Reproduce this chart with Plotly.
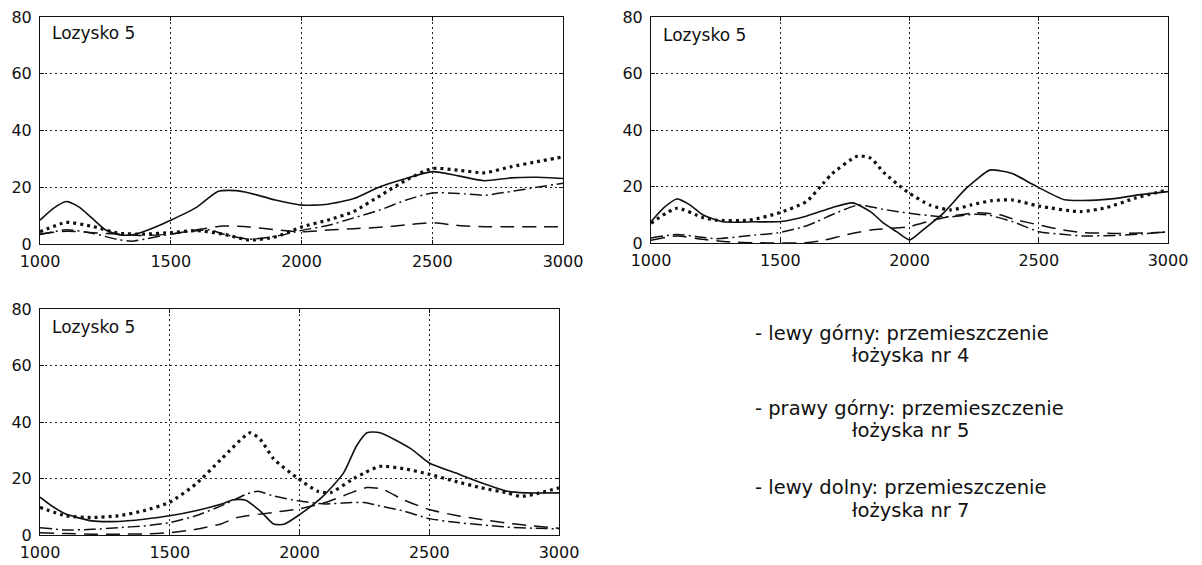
import plotly.graph_objects as go

# ---------------- data ----------------
X_TICKS = [1000, 1500, 2000, 2500, 3000]
Y_TICKS = [0, 20, 40, 60, 80]
PANEL_LABEL = "Lozysko 5"
NOTE_LINES = [
    "- lewy górny: przemieszczenie", "łożyska nr 4",
    "- prawy górny: przemieszczenie", "łożyska nr 5",
    "- lewy dolny: przemieszczenie", "łożyska nr 7",
]

# Panel 1 (top-left)
p1_solid_x = [1000, 1050, 1100, 1150, 1200, 1250, 1300, 1350, 1400, 1500, 1600, 1680, 1750, 1800, 1900, 2000, 2100, 2200, 2300, 2400, 2500, 2600, 2700, 2800, 2900, 3000]
p1_solid_y = [8.4, 12.5, 15.0, 13.0, 9.0, 5.0, 3.3, 3.2, 4.5, 8.4, 13.0, 18.5, 18.8, 18.0, 15.5, 13.7, 14.0, 16.0, 20.2, 23.1, 25.5, 24.0, 22.3, 23.3, 23.5, 23.1]
p1_dot_x = [1000, 1100, 1200, 1300, 1400, 1500, 1600, 1700, 1800, 1900, 2000, 2100, 2200, 2300, 2400, 2500, 2600, 2700, 2800, 2900, 3000]
p1_dot_y = [4.3, 7.6, 6.2, 3.8, 3.5, 4.0, 4.7, 3.5, 1.4, 2.5, 6.0, 8.4, 11.5, 17.0, 22.5, 26.6, 26.0, 25.1, 27.2, 29.0, 30.7]
p1_dashdot_x = [1000, 1100, 1200, 1300, 1350, 1400, 1500, 1600, 1650, 1700, 1800, 1900, 2000, 2100, 2200, 2300, 2400, 2500, 2600, 2700, 2800, 2900, 3000]
p1_dashdot_y = [3.3, 5.0, 3.8, 1.5, 1.0, 1.7, 3.5, 4.7, 5.0, 3.5, 1.7, 2.7, 4.8, 6.5, 9.2, 12.0, 15.5, 18.0, 17.8, 17.2, 18.5, 20.0, 21.4]
p1_dash_x = [1000, 1100, 1200, 1300, 1400, 1500, 1600, 1700, 1800, 1900, 2000, 2100, 2200, 2300, 2400, 2500, 2600, 2700, 2800, 2900, 3000]
p1_dash_y = [3.5, 4.5, 4.0, 3.5, 3.0, 3.5, 5.0, 6.3, 6.0, 5.0, 4.3, 4.9, 5.4, 5.9, 6.7, 7.5, 6.5, 6.1, 6.1, 6.1, 6.1]

# Panel 2 (top-right)
p2_solid_x = [1000, 1050, 1100, 1150, 1200, 1280, 1400, 1500, 1600, 1700, 1780, 1850, 1900, 1950, 2000, 2050, 2130, 2220, 2310, 2350, 2400, 2480, 2600, 2700, 2800, 2900, 3000]
p2_solid_y = [7.5, 12.5, 15.6, 13.5, 10.0, 7.5, 7.5, 7.6, 9.5, 12.5, 14.2, 11.0, 7.0, 4.0, 1.1, 4.5, 10.5, 19.4, 25.8, 25.6, 24.5, 20.6, 15.3, 15.1, 15.8, 17.2, 18.2]
p2_dot_x = [1000, 1100, 1200, 1250, 1380, 1490, 1600, 1670, 1700, 1800, 1850, 1900, 1990, 2080, 2160, 2240, 2320, 2400, 2500, 2660, 2760, 2870, 3000]
p2_dot_y = [7.0, 12.3, 9.0, 8.1, 8.1, 10.5, 14.6, 21.5, 24.5, 30.8, 30.0, 25.0, 18.2, 13.4, 11.7, 13.5, 15.0, 15.2, 13.1, 11.1, 12.5, 15.8, 18.8]
p2_dashdot_x = [1000, 1100, 1200, 1250, 1400, 1490, 1600, 1640, 1700, 1800, 1900, 2000, 2100, 2160, 2250, 2300, 2400, 2500, 2600, 2670, 2800, 2900, 3000]
p2_dashdot_y = [1.8, 3.0, 2.0, 1.5, 2.8, 3.6, 6.0, 7.5, 10.0, 13.4, 11.9, 10.5, 9.5, 9.3, 10.2, 10.0, 7.5, 4.0, 3.0, 2.5, 2.7, 3.2, 4.0]
p2_dash_x = [1000, 1100, 1200, 1300, 1400, 1500, 1600, 1670, 1750, 1850, 2000, 2090, 2180, 2260, 2350, 2400, 2500, 2600, 2670, 2800, 2900, 3000]
p2_dash_y = [1.0, 2.5, 1.3, 0.4, 0.1, 0.0, 0.1, 1.0, 2.8, 4.6, 5.8, 8.1, 9.8, 10.7, 10.0, 8.5, 6.4, 4.5, 3.7, 3.4, 3.5, 3.9]

# Panel 3 (bottom-left)
p3_solid_x = [1000, 1050, 1100, 1200, 1300, 1400, 1500, 1600, 1700, 1745, 1790, 1850, 1900, 1940, 2000, 2090, 2170, 2220, 2260, 2310, 2430, 2500, 2600, 2700, 2800, 2870, 3000]
p3_solid_y = [13.4, 10.0, 7.4, 5.0, 4.8, 5.6, 6.8, 8.6, 11.0, 12.5, 12.4, 8.4, 3.9, 3.8, 7.2, 13.7, 22.0, 31.6, 36.2, 36.2, 30.5, 25.5, 22.0, 18.5, 15.5, 14.9, 14.9]
p3_dot_x = [1000, 1100, 1200, 1300, 1400, 1500, 1600, 1700, 1810, 1850, 1900, 1990, 2070, 2120, 2200, 2250, 2310, 2400, 2500, 2600, 2700, 2800, 2850, 2900, 3000]
p3_dot_y = [9.8, 6.8, 6.2, 6.8, 8.6, 11.6, 18.0, 27.0, 36.2, 33.7, 27.0, 20.3, 15.5, 15.0, 19.5, 22.0, 24.3, 23.5, 21.5, 19.0, 16.7, 14.9, 13.7, 14.3, 16.7]
p3_dashdot_x = [1000, 1100, 1200, 1300, 1400, 1500, 1600, 1700, 1800, 1840, 1900, 2000, 2100, 2200, 2250, 2300, 2400, 2500, 2600, 2700, 2800, 2900, 3000]
p3_dashdot_y = [2.6, 1.8, 2.0, 2.6, 3.2, 4.4, 6.8, 10.4, 14.6, 15.5, 13.8, 12.0, 11.0, 11.5, 11.5, 10.5, 8.5, 5.8, 4.5, 3.6, 2.8, 2.4, 2.2]
p3_dash_x = [1000, 1100, 1200, 1300, 1400, 1500, 1600, 1700, 1760, 1900, 2000, 2100, 2200, 2260, 2320, 2400, 2500, 2600, 2700, 2800, 2900, 3000]
p3_dash_y = [0.8, 0.5, 0.3, 0.3, 0.4, 0.8, 2.0, 4.0, 6.2, 8.0, 9.3, 11.5, 15.0, 16.8, 16.2, 12.5, 9.0, 7.0, 5.5, 4.2, 3.2, 2.4]

# ---------------- styles ----------------
INK = "#111111"
FONT = "DejaVu Sans"
STYLE = {
    "solid": dict(width=1.6, dash="solid"),
    "dot": dict(width=3.2, dash="3px,4px"),
    "dash": dict(width=1.5, dash="14px,8px"),
    "dashdot": dict(width=1.5, dash="12px,4px,2px,4px"),
}

panels = [
    ("x", "y", [("solid", p1_solid_x, p1_solid_y), ("dot", p1_dot_x, p1_dot_y),
                ("dashdot", p1_dashdot_x, p1_dashdot_y), ("dash", p1_dash_x, p1_dash_y)]),
    ("x2", "y2", [("solid", p2_solid_x, p2_solid_y), ("dot", p2_dot_x, p2_dot_y),
                  ("dashdot", p2_dashdot_x, p2_dashdot_y), ("dash", p2_dash_x, p2_dash_y)]),
    ("x3", "y3", [("solid", p3_solid_x, p3_solid_y), ("dot", p3_dot_x, p3_dot_y),
                  ("dashdot", p3_dashdot_x, p3_dashdot_y), ("dash", p3_dash_x, p3_dash_y)]),
]

fig = go.Figure()
for xa, ya, series in panels:
    for kind, xs, ys in series:
        st = STYLE[kind]
        fig.add_trace(go.Scatter(
            x=xs, y=ys, xaxis=xa, yaxis=ya, mode="lines",
            line=dict(color=INK, width=st["width"], dash=st["dash"], shape="spline", smoothing=0.6),
            showlegend=False, hoverinfo="skip"))

W, H = 1202, 565
def px_dom_x(a, b):
    return [a / W, b / W]
def px_dom_y(top, bottom):
    return [1 - bottom / H, 1 - top / H]

axis_common = dict(
    showline=True, linecolor=INK, linewidth=1, mirror="ticks",
    ticks="inside", ticklen=4, tickcolor=INK, tickwidth=1,
    showgrid=True, gridcolor="#222222", gridwidth=1, griddash="2px,3px",
    zeroline=False, automargin=False,
    tickfont=dict(family=FONT, size=16, color=INK),
)

domains = [
    (px_dom_x(40, 563), px_dom_y(17, 244)),
    (px_dom_x(651, 1168), px_dom_y(17, 243)),
    (px_dom_x(40, 559), px_dom_y(309, 535)),
]
layout_axes = {}
for i, (dx, dy) in enumerate(domains, start=1):
    sx = "" if i == 1 else str(i)
    layout_axes["xaxis" + sx] = dict(axis_common, domain=dx, range=[1000, 3000],
                                      tickvals=X_TICKS, anchor="y" + sx, ticklabelstandoff=3)
    layout_axes["yaxis" + sx] = dict(axis_common, domain=dy, range=[0, 80],
                                      tickvals=Y_TICKS, anchor="x" + sx, ticklabelstandoff=4)

fig.update_layout(
    width=W, height=H, autosize=False,
    margin=dict(l=0, r=0, t=0, b=0, autoexpand=False),
    paper_bgcolor="white", plot_bgcolor="white",
    **layout_axes,
)

# panel labels
for (px_x, px_y) in [(50, 33), (661, 35), (50, 327)]:
    fig.add_annotation(text=PANEL_LABEL, xref="paper", yref="paper",
                       x=px_x / W, y=1 - px_y / H, xanchor="left", yanchor="middle",
                       showarrow=False, font=dict(family=FONT, size=17, color=INK))

# notes
note_pos = [(753, 333), (850, 355), (753, 408), (850, 430), (753, 487), (850, 510)]
for txt, (px_x, px_y) in zip(NOTE_LINES, note_pos):
    fig.add_annotation(text=txt, xref="paper", yref="paper",
                       x=px_x / W, y=1 - px_y / H, xanchor="left", yanchor="middle",
                       showarrow=False, font=dict(family=FONT, size=19.5, color=INK))

fig.write_html("out.html")
